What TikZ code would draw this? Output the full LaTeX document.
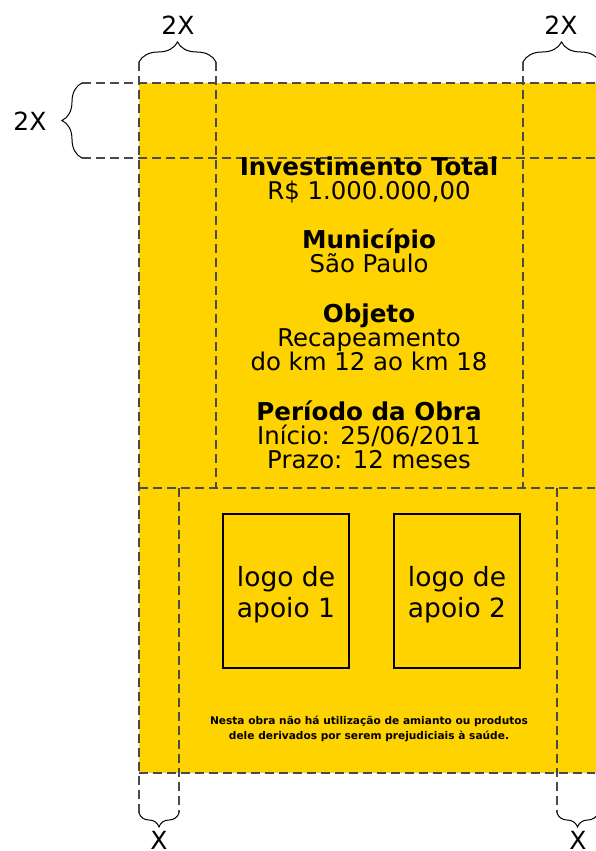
\documentclass[tikz,border=0pt]{standalone}
\usepackage{fontspec}
\setmainfont{DejaVu Sans}
\usetikzlibrary{decorations.pathreplacing}
\definecolor{plaque}{HTML}{FFD300}
\definecolor{guide}{HTML}{4A4A4A}
\tikzset{
  guideline/.style={draw=guide, line width=1.2pt, dash pattern=on 9pt off 5pt},
  logobox/.style={draw=black, line width=1.4pt, minimum width=126pt, minimum height=154pt, inner sep=0pt, align=center, font=\fontsize{26.5}{31}\selectfont},
  title/.style={anchor=base, font=\fontsize{24.6}{24}\selectfont\bfseries},
  info/.style={anchor=base, font=\fontsize{24.4}{24}\selectfont},
  measure/.style={decorate, decoration={brace, amplitude=#1}, draw=black, line width=1pt},
  measure/.default=20pt,
  dimlabel/.style={font=\fontsize{25}{25}\selectfont}
}
\begin{document}
\begin{tikzpicture}[x=1pt, y=-1pt]
\useasboundingbox (0,0) rectangle (595,851);
% yellow plaque
\fill[plaque] (139,83) rectangle (600,773);
% guide lines
\coordinate (h1a) at (82,83);   \coordinate (h1b) at (595,83);
\coordinate (h2a) at (82,158);  \coordinate (h2b) at (595,158);
\coordinate (h3a) at (139,488); \coordinate (h3b) at (595,488);
\coordinate (h4a) at (139,773); \coordinate (h4b) at (595,773);
\coordinate (v1a) at (139,62);  \coordinate (v1b) at (139,813);
\coordinate (v2a) at (216,62);  \coordinate (v2b) at (216,488);
\coordinate (v3a) at (523,62);  \coordinate (v3b) at (523,488);
\coordinate (v4a) at (179,488); \coordinate (v4b) at (179,813);
\coordinate (v5a) at (557,488); \coordinate (v5b) at (557,813);
\draw[guideline] (h1a) -- (h1b);
\draw[guideline] (h2a) -- (h2b);
\draw[guideline] (h3a) -- (h3b);
\draw[guideline] (h4a) -- (h4b);
\draw[guideline] (v1a) -- (v1b);
\draw[guideline] (v2a) -- (v2b);
\draw[guideline] (v3a) -- (v3b);
\draw[guideline] (v4a) -- (v4b);
\draw[guideline] (v5a) -- (v5b);
% braces
\draw[measure=20pt] (v1a) -- (v2a);
\draw[measure=20pt] (v3a) -- (600,62);
\draw[measure=20pt] (h2a) -- (h1a);
\draw[measure=14pt] (v4b) -- (v1b);
\draw[measure=14pt] (598,813) -- (v5b);
\node[dimlabel] (dimA) at (178,25) {2X};
\node[dimlabel] (dimB) at (561,25) {2X};
\node[dimlabel] (dimC) at (30,121) {2X};
\node[dimlabel] (dimD) at (159,840) {X};
\node[dimlabel] (dimE) at (578,840) {X};
% main text
\node[title] (t1) at (369,175) {Investimento Total};
\node[info]  (i1) at (369,199) {R\$ 1.000.000,00};
\node[title] (t2) at (369,248) {Município};
\node[info]  (i2) at (369,272) {São Paulo};
\node[title] (t3) at (369,322) {Objeto};
\node[info]  (i3) at (369,346) {Recapeamento};
\node[info]  (i4) at (369,370) {do km 12 ao km 18};
\node[title] (t4) at (369,420) {Período da Obra};
\node[info]  (i5) at (369,444) {Início: 25/06/2011};
\node[info]  (i6) at (369,468) {Prazo: 12 meses};
% logos
\node[logobox] (logo1) at (286,591) {};
\node[logobox] (logo2) at (457,591) {};
\node[align=center, font=\fontsize{26.5}{31}\selectfont] (l1) at (286,595) {logo de\\apoio 1};
\node[align=center, font=\fontsize{26.5}{31}\selectfont] (l2) at (457,595) {logo de\\apoio 2};
% disclaimer
\node[align=center, font=\fontsize{10.6}{14.5}\selectfont\bfseries] (note) at (369,729)
  {Nesta obra não há utilização de amianto ou produtos\\dele derivados por serem prejudiciais à saúde.};
\end{tikzpicture}
\end{document}
